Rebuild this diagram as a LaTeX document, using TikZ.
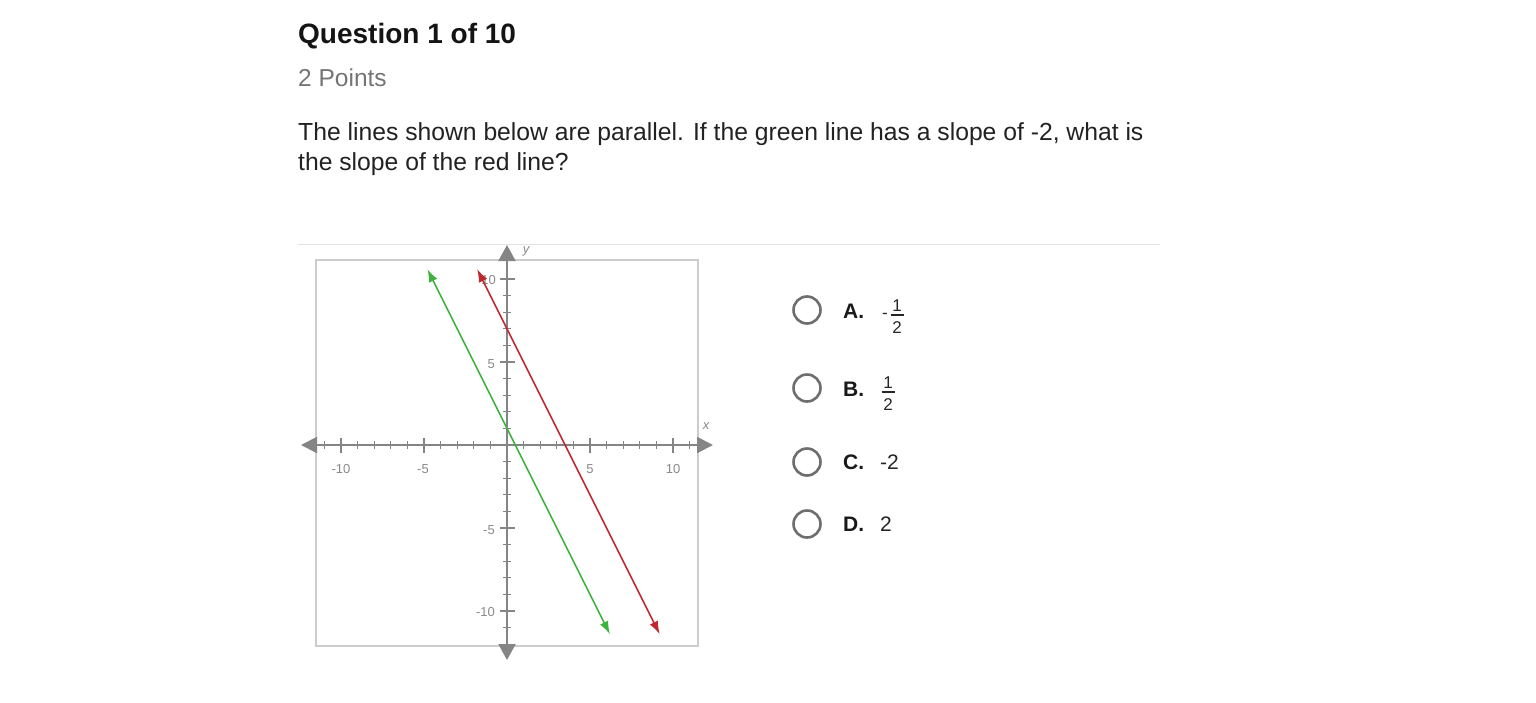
\documentclass[tikz,border=0pt]{standalone}
\usepackage{fontspec}
\setmainfont{Liberation Sans}
\usetikzlibrary{arrows.meta}
\definecolor{axisgray}{HTML}{858585}
\definecolor{boxgray}{HTML}{CCCCCC}
\definecolor{lblgray}{HTML}{8A8A8A}
\definecolor{sepgray}{HTML}{E2E2E2}
\definecolor{ptsgray}{HTML}{757575}
\definecolor{txtdark}{HTML}{222222}
\definecolor{gline}{HTML}{3DB23D}
\definecolor{rline}{HTML}{C0282D}
\definecolor{radiogray}{HTML}{6E6E6E}
\tikzset{
  txt/.style={inner sep=0pt, anchor=base west},
  axislbl/.style={inner sep=0pt, font=\fontsize{13}{13}\selectfont, text=lblgray},
  axisline/.style={draw=axisgray, line width=2pt},
  tickmark/.style={draw=axisgray, line width=1.2pt},
  radio/.style={circle, draw=radiogray, line width=2.6pt, minimum size=27pt, inner sep=0pt},
  optlbl/.style={inner sep=0pt, anchor=base west, font=\fontsize{21}{21}\selectfont\bfseries, text=black!90},
  optval/.style={inner sep=0pt, font=\fontsize{21}{21}\selectfont, text=black!85},
  fracdig/.style={inner sep=0pt, anchor=base, font=\fontsize{17}{17}\selectfont, text=black!85},
  slopeline/.style={line width=1.6pt, {Latex[length=13pt,width=9pt]}-{Latex[length=13pt,width=9pt]}},
}
\begin{document}
\begin{tikzpicture}[x=1pt,y=-1pt]
\useasboundingbox (0,0) rectangle (1536,702);
\fill[white] (0,0) rectangle (1536,702);

% header texts
\node[txt, font=\fontsize{28}{28}\selectfont\bfseries, text=black!92] (title) at (298,43) {Question 1 of 10};
\node[txt, font=\fontsize{24.5}{24.5}\selectfont, text=ptsgray] (points) at (298,86) {2 Points};
\node[txt, font=\fontsize{24.7}{24.7}\selectfont, text=txtdark] (q1) at (298,140) {The lines shown below are parallel. If the green line has a slope of -2, what is};
\node[txt, font=\fontsize{24.7}{24.7}\selectfont, text=txtdark] (q2) at (298,170) {the slope of the red line?};

% separator
\coordinate (sepL) at (298,244);
\coordinate (sepR) at (1160,244);
\draw[sepgray, line width=1pt] (sepL) -- (sepR);

% graph frame
\draw[boxgray, line width=1.5pt] (316,260) rectangle (698,646);

% axes
\coordinate (xl) at (301,445);
\coordinate (xr) at (713,445);
\coordinate (yt) at (507,245);
\coordinate (yb) at (507,660);
\draw[axisline, {Triangle[length=16pt,width=16pt]}-{Triangle[length=16pt,width=16pt]}] (xl) -- (xr);
\draw[axisline, {Triangle[length=16pt,width=17pt]}-{Triangle[length=16pt,width=17pt]}] (yt) -- (yb);

\begin{scope}[shift={(507pt,-445pt)}, x=16.6pt, y=16.6pt]
  \foreach \i in {-11,...,-1,1,2,...,11} {
    \pgfmathtruncatemacro{\m}{mod(abs(\i),5)}
    \ifnum\m=0
      \draw[tickmark] (\i,0) ++(0,-7.5pt) -- ++(0,15pt);
    \else
      \draw[tickmark] (\i,0) ++(0,-4pt) -- ++(0,8pt);
    \fi
  }
  \foreach \i in {-11,...,-1,1,2,...,10} {
    \pgfmathtruncatemacro{\m}{mod(abs(\i),5)}
    \ifnum\m=0
      \draw[tickmark] (0,\i) ++(-7.5pt,0) -- ++(15pt,0);
    \else
      \draw[tickmark] (0,\i) ++(-4pt,0) -- ++(8pt,0);
    \fi
  }
\end{scope}

% axis labels
\node[axislbl] (lxm10) at (341,469) {-10};
\node[axislbl] (lxm5) at (423,469) {-5};
\node[axislbl] (lx5) at (590,469) {5};
\node[axislbl] (lx10) at (673,469) {10};
\node[axislbl, anchor=east] (ly10) at (496,280) {10};
\node[axislbl, anchor=east] (ly5) at (495,364) {5};
\node[axislbl, anchor=east] (lym5) at (495,530) {-5};
\node[axislbl, anchor=east] (lym10) at (495,612) {-10};
\node[axislbl, font=\fontsize{13}{13}\selectfont\itshape] (ylbl) at (526,251) {y};
\node[axislbl, font=\fontsize{13}{13}\selectfont\itshape] (xlbl) at (706,426) {x};

% the two parallel lines
\begin{scope}[shift={(507pt,-445pt)}, x=16.6pt, y=16.6pt]
  \coordinate (gtop) at (-4.8,10.6);
  \coordinate (gbot) at (6.2,-11.4);
  \coordinate (rtop) at (-1.8,10.6);
  \coordinate (rbot) at (9.2,-11.4);
\end{scope}
\draw[gline, slopeline] (gtop) -- (gbot);
\draw[rline, slopeline] (rtop) -- (rbot);

% answer choices
\node[radio] (ra) at (807,310) {};
\node[radio] (rb) at (807,388) {};
\node[radio] (rc) at (807,462) {};
\node[radio] (rd) at (807,524) {};

\node[optlbl] (oa) at (843,318) {A.};
\node[optlbl] (ob) at (843,396) {B.};
\node[optlbl] (oc) at (843,469) {C.};
\node[optlbl] (od) at (843,531) {D.};

% A: -1/2
\node[fracdig] (aminus) at (885,318) {-};
\node[fracdig] (anum) at (897,311) {1};
\node[fracdig] (aden) at (897,333) {2};
\draw[black!85, line width=1.1pt] (890.5,315) -- (903.5,315);
% B: 1/2
\node[fracdig] (bnum) at (888,388) {1};
\node[fracdig] (bden) at (888,410) {2};
\draw[black!85, line width=1.1pt] (881.5,392) -- (894.5,392);
% C, D
\node[optval, anchor=base west] (vc) at (880,469) {-2};
\node[optval, anchor=base west] (vd) at (880,531) {2};
\end{tikzpicture}
\end{document}
